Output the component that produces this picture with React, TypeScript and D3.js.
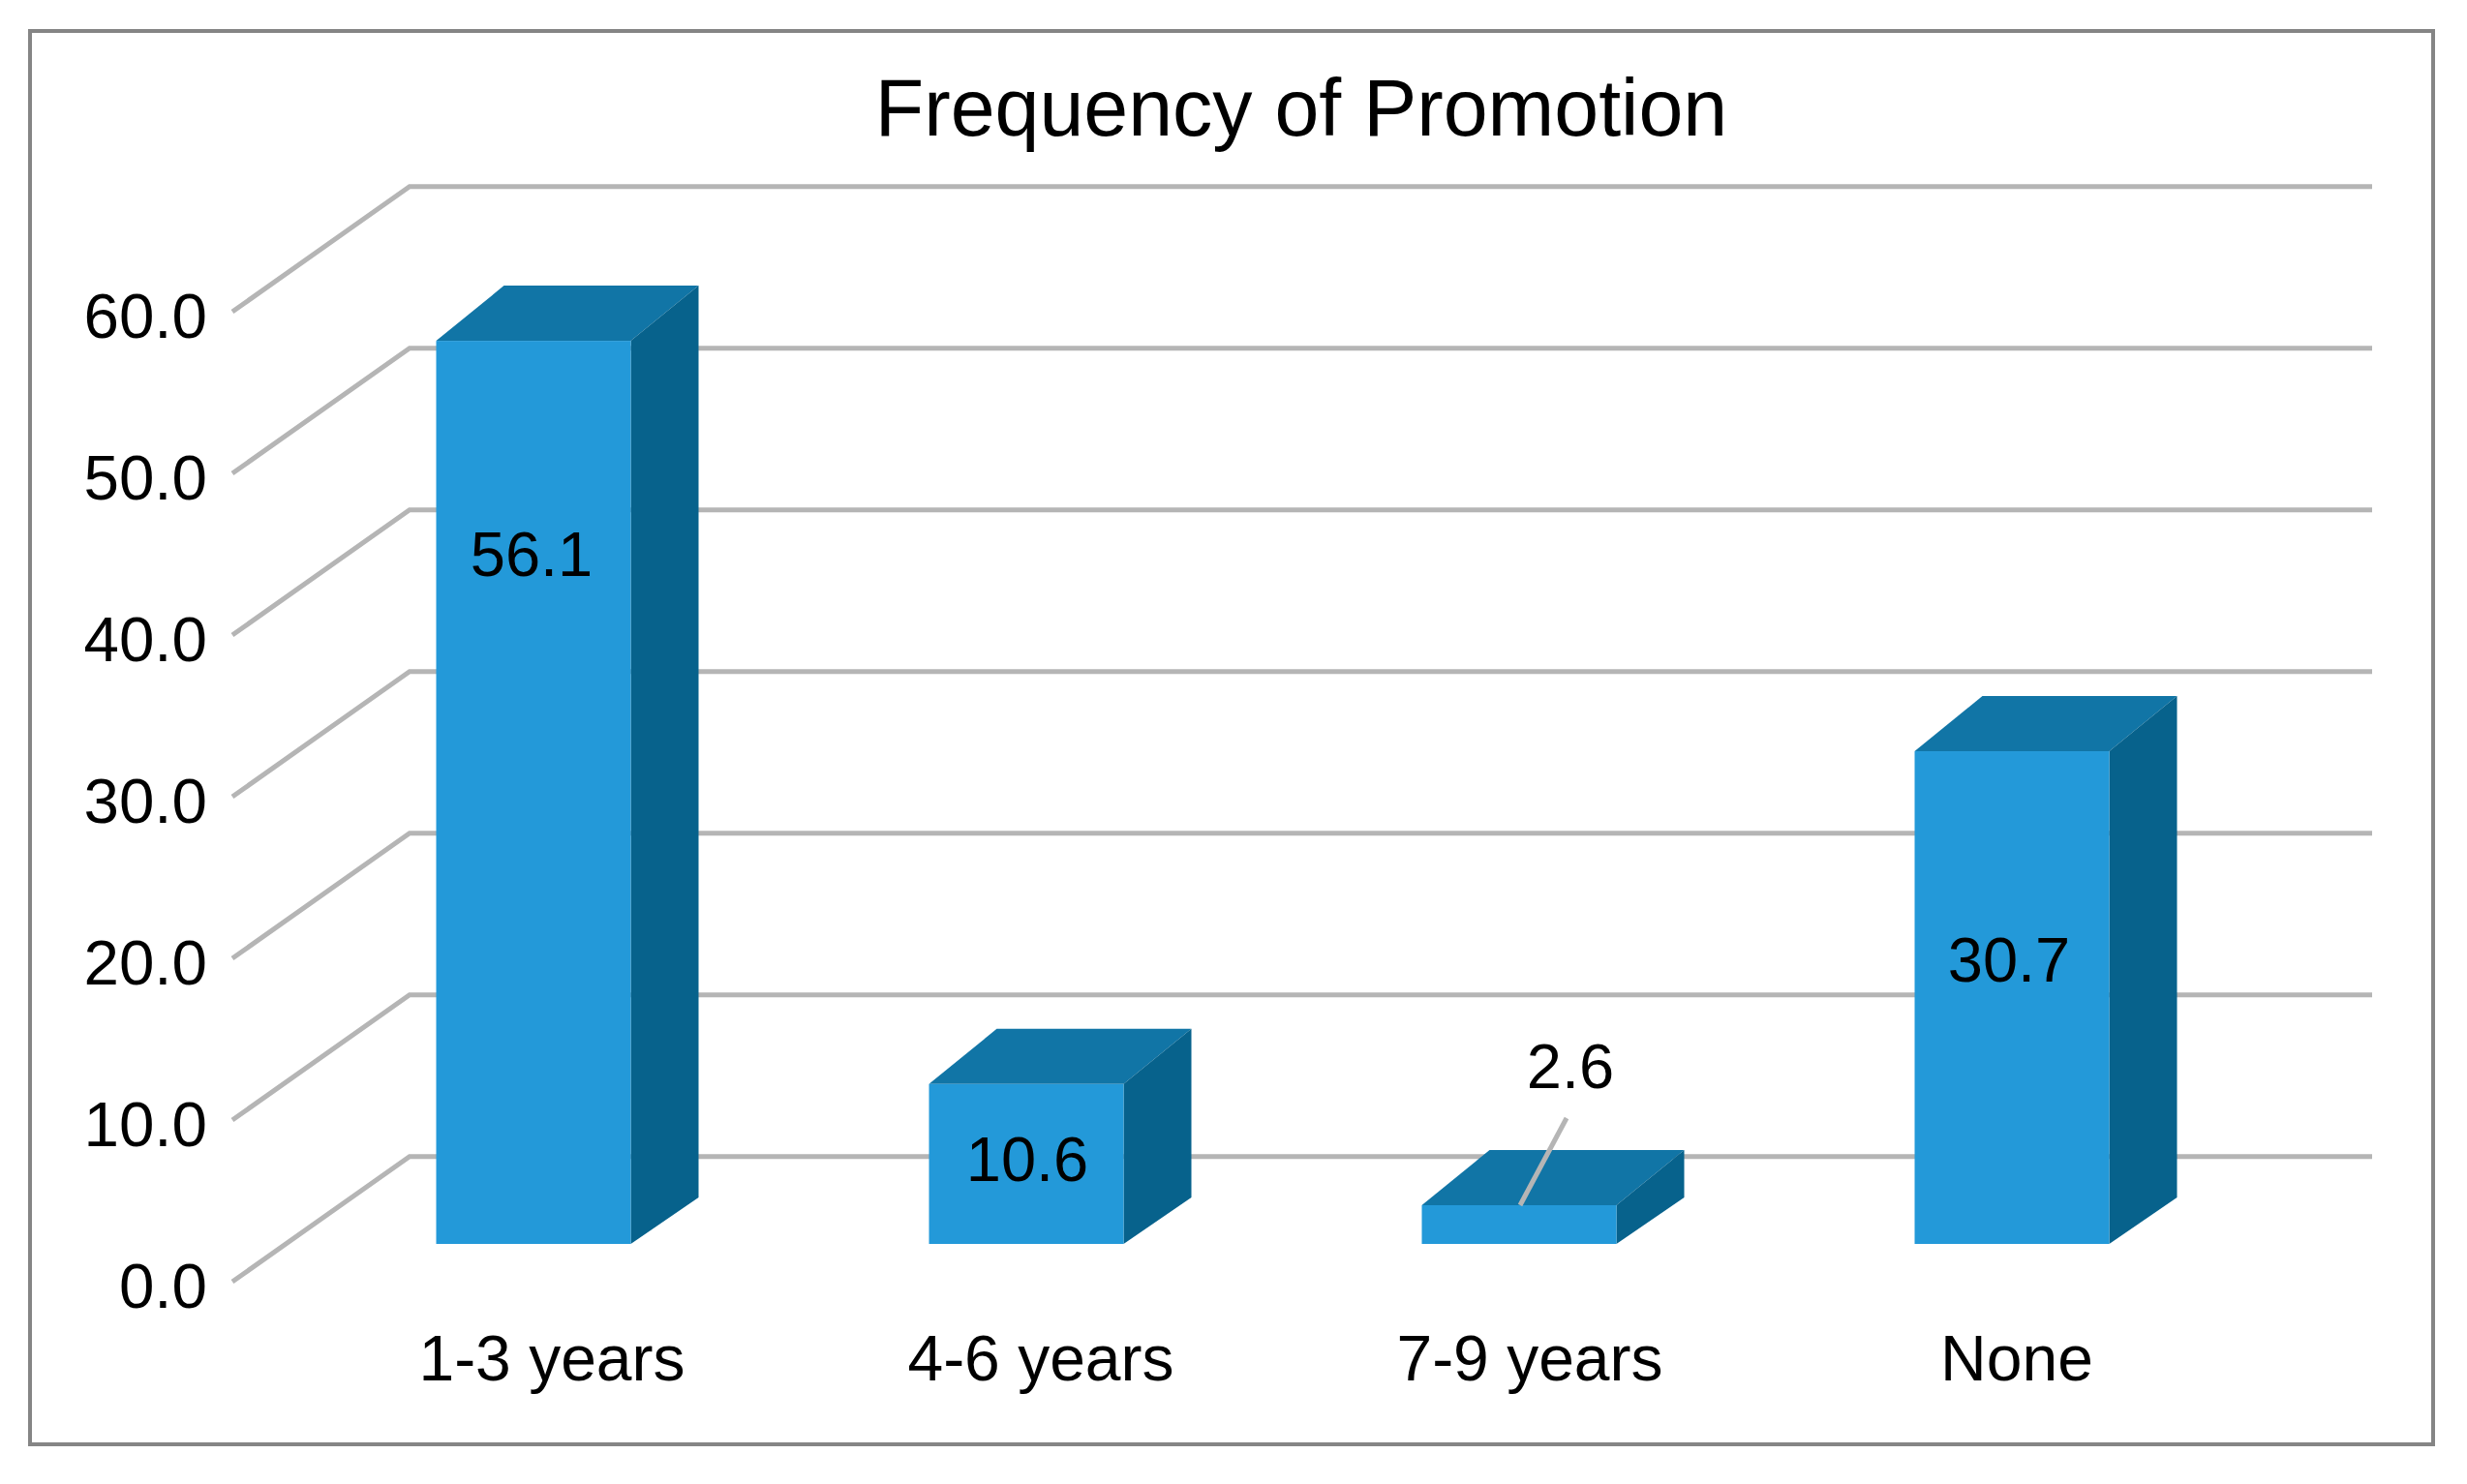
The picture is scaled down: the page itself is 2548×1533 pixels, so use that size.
import React from "react";
import * as d3 from "d3";

const titleText = "Frequency of Promotion";
const categories = ["1-3 years", "4-6 years", "7-9 years", "None"];
// Bar heights as measured on the axis; the second bar is drawn a little shorter than its printed label.
const barHeights = [56.1, 10.1, 2.6, 30.7];
const valueLabels = ["56.1", "10.6", "2.6", "30.7"];
const ticks = [0, 10, 20, 30, 40, 50, 60];

const FONT = "'Liberation Sans', Arial, sans-serif";
const GRID = "#b5b5b5";
const FRONT = "#2399d9";
const TOP = "#1175a6";
const SIDE = "#07628c";

// Wall plane and floor-front plane share a slope; bars sit between them.
const yWall = d3.scaleLinear().domain([0, 60]).range([1194.7, 192.7]);
const yFront = d3.scaleLinear().domain([0, 60]).range([1324, 322]);
const yBar = d3.scaleLinear().domain([0, 60]).range([1288.4, 287]);
const x = d3.scaleBand<string>().domain(categories).range([294, 2330]).paddingInner(0);

const barBottom = 1285;
const barW = 201;
const dxBar = 70;
const dyTop = 57;
const dyBottom = 48;

const catLabelX = [570, 1075, 1580, 2083];
const valLabelPos = [[549, 595], [1061, 1220], [1622, 1124], [2075, 1014]];

export default function App() {
  const step = x.bandwidth();
  return (
    <svg
      width={2548}
      height={1533}
      style={{ position: "absolute", left: 0, top: 0, background: "#fff" }}
      fontFamily={FONT}
    >
      <rect x={31} y={32} width={2482} height={1460} fill="#fff" stroke="#858585" strokeWidth={4} />
      <text x={1344} y={140} textAnchor="middle" fontSize={82.5} fill="#000">{titleText}</text>

      {ticks.map((t) => (
        <g key={t}>
          <polyline
            points={`240,${yFront(t)} 423,${yWall(t)} 2450,${yWall(t)}`}
            fill="none"
            stroke={GRID}
            strokeWidth={5}
          />
          <text x={214} y={yFront(t) + 27} textAnchor="end" fontSize={65.5} fill="#000">{t.toFixed(1)}</text>
        </g>
      ))}

      {categories.map((c, i) => {
        const x0 = (x(c) as number) + step / 2 - barW / 2 + 2.5;
        const x1 = x0 + barW;
        const yT = yBar(barHeights[i]);
        return (
          <g key={c}>
            <polygon points={`${x0},${yT} ${x0 + dxBar},${yT - dyTop} ${x1 + dxBar},${yT - dyTop} ${x1},${yT}`} fill={TOP} />
            <polygon points={`${x1},${yT} ${x1 + dxBar},${yT - dyTop} ${x1 + dxBar},${barBottom - dyBottom} ${x1},${barBottom}`} fill={SIDE} />
            <rect x={x0} y={yT} width={barW} height={barBottom - yT} fill={FRONT} />
          </g>
        );
      })}

      <line x1={1618} y1={1155} x2={1570} y2={1245} stroke={GRID} strokeWidth={5} />

      {categories.map((c, i) => (
        <text key={c} x={catLabelX[i]} y={1426} textAnchor="middle" fontSize={66} fill="#000">{c}</text>
      ))}
      {valueLabels.map((v, i) => (
        <text key={v} x={valLabelPos[i][0]} y={valLabelPos[i][1]} textAnchor="middle" fontSize={65} fill="#000">{v}</text>
      ))}
    </svg>
  );
}
